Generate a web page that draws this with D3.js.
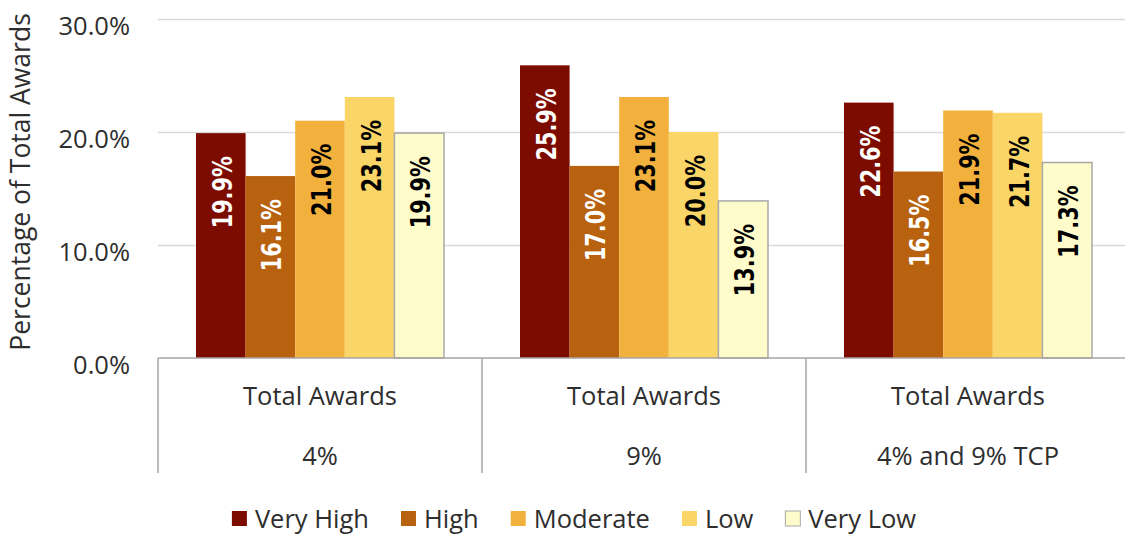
<!DOCTYPE html>
<html>
<head>
<meta charset="utf-8">
<script src="https://cdn.jsdelivr.net/npm/d3@7/dist/d3.min.js"></script>
<style>
  html, body { margin: 0; padding: 0; background: #fff; overflow: hidden; }
  svg { display: block; }
  text { font-family: "Open Sans", "DejaVu Sans", sans-serif; fill: #2e2e2e; }
</style>
</head>
<body>
<svg id="chart" width="1125" height="537"></svg>
<script>

var groups = ["4%", "9%", "4% and 9% TCP"]
var groupTop = "Total Awards"
var levels = ["Very High", "High", "Moderate", "Low", "Very Low"]
var colors = ["#7d0c00", "#b8620f", "#f2b13c", "#fad567", "#fffccc"]
var labelColors = ["#fff", "#fff", "#000", "#000", "#000"]

// percent values, one list per group, in the order of levels
var values4 = [19.9, 16.1, 21.0, 23.1, 19.9]
var values9 = [25.9, 17.0, 23.1, 20.0, 13.9]
var valuesTcp = [22.6, 16.5, 21.9, 21.7, 17.3]

var yTicks = [0, 10, 20, 30]

var rows = [values4, values9, valuesTcp].map(function(vals, gi) {
    return { group: groups[gi], bars: vals.map(function(v, i) { return { level: levels[i], value: v } }) }
})

var svg = d3.select("#chart")

var plotLeft = 158, plotRight = 1130, plotTop = 19, plotBottom = 358

var y = d3.scaleLinear().domain([0, 30]).range([plotBottom, plotTop])

var x0 = d3.scaleBand().domain(groups).range([plotLeft, plotRight]).paddingInner(0).paddingOuter(0)

var x1 = d3.scaleBand().domain(levels).range([0, x0.bandwidth()]).paddingInner(0).paddingOuter(0.766)

var color = d3.scaleOrdinal().domain(levels).range(colors)
var labelColor = d3.scaleOrdinal().domain(levels).range(labelColors)

// gridlines
svg.append("g")
    .selectAll("line")
    .data(yTicks.filter(function(d) { return d > 0 }))
    .enter().append("line")
    .attr("x1", plotLeft)
    .attr("x2", plotRight)
    .attr("y1", function(d) { return y(d) + 0.5 })
    .attr("y2", function(d) { return y(d) + 0.5 })
    .attr("stroke", "#d9d9d9")
    .attr("stroke-width", 1.5)

// y tick labels
svg.append("g")
    .selectAll("text")
    .data(yTicks)
    .enter().append("text")
    .attr("x", 130)
    .attr("y", function(d) { return y(d) + 6 })
    .attr("text-anchor", "end")
    .attr("dominant-baseline", "central")
    .style("font-size", "25.5px")
    .text(function(d) { return d3.format(".1f")(d) + "%" })

// y title
svg.append("text")
    .attr("transform", "translate(30," + 182 + ") rotate(-90)")
    .attr("text-anchor", "middle")
    .style("font-size", "26.5px")
    .text("Percentage of Total Awards")

// bars
var g = svg.append("g")
    .selectAll("g")
    .data(rows)
    .enter().append("g")
    .attr("transform", function(d) { return "translate(" + x0(d.group) + ",0)" })

g.selectAll("rect")
    .data(function(d) { return d.bars })
    .enter().append("rect")
    .attr("x", function(d) { return x1(d.level) })
    .attr("y", function(d) { return y(d.value) })
    .attr("width", x1.bandwidth())
    .attr("height", function(d) { return y(0) - y(d.value) })
    .attr("fill", function(d) { return color(d.level) })
    .attr("stroke", function(d) { return d.level === "Very Low" ? "#a8a8a8" : "none" })
    .attr("stroke-width", 1.5)

// value labels, squeezed a little along the text to match the narrow face
g.selectAll("text")
    .data(function(d) { return d.bars })
    .enter().append("text")
    .attr("transform", function(d) {
        return "translate(" + (x1(d.level) + x1.bandwidth() / 2 + 2) + "," + (y(d.value) + 23) + ") rotate(-90) scale(0.89,1)"
    })
    .attr("text-anchor", "end")
    .attr("dominant-baseline", "central")
    .style("font-family", "'Liberation Sans Narrow', 'DejaVu Sans Condensed', sans-serif")
    .style("font-weight", "bold")
    .style("font-size", "26px")
    .style("fill", function(d) { return labelColor(d.level) })
    .text(function(d) { return d3.format(".1f")(d.value) + "%" })

// baseline and category dividers
svg.append("line")
    .attr("x1", plotLeft)
    .attr("x2", plotRight)
    .attr("y1", plotBottom)
    .attr("y2", plotBottom)
    .attr("stroke", "#a6a6a6")
    .attr("stroke-width", 1.5)

svg.append("g")
    .selectAll("line")
    .data(groups.map(function(d) { return x0(d) }).concat([plotRight]))
    .enter().append("line")
    .attr("x1", function(d) { return d })
    .attr("x2", function(d) { return d })
    .attr("y1", plotBottom)
    .attr("y2", 473)
    .attr("stroke", "#a6a6a6")
    .attr("stroke-width", 1.5)

// two level category labels
var cat = svg.append("g")
    .selectAll("g")
    .data(groups)
    .enter().append("g")
    .attr("transform", function(d) { return "translate(" + (x0(d) + x0.bandwidth() / 2) + ",0)" })

cat.append("text")
    .attr("y", 405)
    .attr("text-anchor", "middle")
    .style("font-size", "25.5px")
    .text(groupTop)

cat.append("text")
    .attr("y", 465)
    .attr("text-anchor", "middle")
    .style("font-size", "25.5px")
    .text(function(d) { return d })

// legend
var legend = svg.append("g")

var items = legend.selectAll("g")
    .data(levels)
    .enter().append("g")

items.append("rect")
    .attr("width", 15)
    .attr("height", 15)
    .attr("y", 511)
    .attr("fill", function(d) { return color(d) })
    .attr("stroke", function(d) { return d === "Very Low" ? "#a8a8a8" : "none" })
    .attr("stroke-width", 1)

items.append("text")
    .attr("x", 23)
    .attr("y", 528)
    .style("font-size", "25.5px")
    .text(function(d) { return d })

var pos = 0
items.each(function() {
    var w = d3.select(this).select("text").node().getComputedTextLength()
    d3.select(this).attr("transform", "translate(" + pos + ",0)")
    pos += 23 + w + 32
})
pos -= 32

legend.attr("transform", "translate(" + (574 - pos / 2) + ",0)")

</script>
</body>
</html>
